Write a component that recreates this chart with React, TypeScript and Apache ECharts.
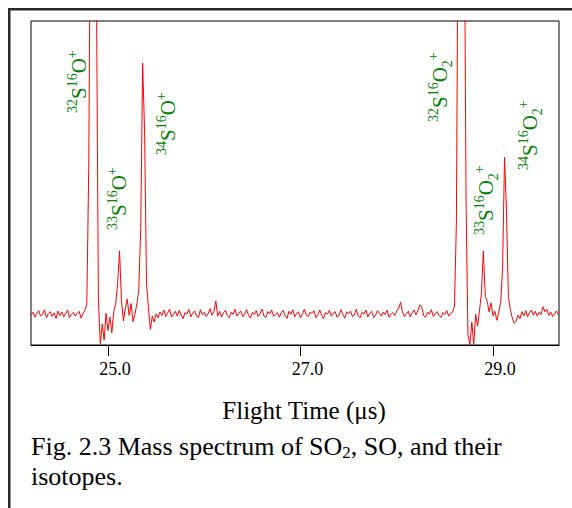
import React, { useEffect, useRef } from "react";
import * as echarts from "echarts";

// Flight time sampling of the trace (μs)
const TIME_START = 24.2;
const TIME_STEP = 0.02;

// Axis
const X_MIN = 24.2;
const X_MAX = 29.686;
const Y_MIN = 0;
const Y_MAX = 100;
const TICK_VALUES = [25, 27, 29];

// Intensity (arbitrary units), segment by segment
// samples 0-28: baseline before SO peaks
const BASELINE_LEFT = [
  9.2, 10.1, 8.6, 9.8, 10.6, 8.9, 9.5, 10.9, 8.4, 9.7,
  10.3, 8.8, 9.9, 8.2, 10.5, 9.1, 10.2, 8.7, 9.6, 10.8,
  8.5, 9.4, 10.1, 8.9, 9.8, 10.4, 8.3, 9.6, 10.7,
];
// samples 29-65: 32SO+, 33SO+, 34SO+
const SO_PEAKS = [
  12.5, 55, 150, 150, 150, 110, 14, 0.4, 6.5, 1.5,
  9.8, 4.5, 8.6, 3.8, 10.4, 12.6, 19, 29, 13.5, 7.4,
  11.2, 14.2, 9.1, 12.8, 7.2, 9.4, 12.7, 17, 36, 87,
  66, 19, 11.5, 4.8, 8.9, 7.1, 9.6,
];
// samples 66-218: baseline between SO and SO2
const BASELINE_MID = [
  8.4, 10.2, 9.1, 10.8, 8.8, 9.9, 11.1, 8.6, 9.5, 10.4,
  8.9, 10.7, 9.3, 8.1, 10.0, 9.6, 11.0, 8.7, 9.8, 10.5,
  9.0, 8.5, 10.9, 9.4, 10.1, 8.8, 9.7, 11.2, 9.2, 10.3,
  13.6, 9.0, 10.4, 8.6, 9.9, 10.7, 9.1, 8.4, 10.2, 9.5,
  11.0, 8.9, 9.8, 10.5, 8.7, 9.6, 10.9, 9.2, 8.3, 10.1,
  9.4, 10.6, 8.8, 9.7, 11.1, 9.0, 8.5, 10.3, 9.6, 10.8,
  8.9, 9.3, 10.0, 8.6, 9.9, 10.7, 9.1, 8.2, 10.4, 9.5,
  10.9, 8.7, 9.8, 10.2, 8.4, 9.6, 11.0, 9.3, 8.8, 10.1,
  9.7, 10.6, 8.5, 9.4, 10.8, 9.2, 8.1, 10.0, 9.5, 10.7,
  8.9, 9.8, 10.3, 8.6, 9.1, 10.9, 9.4, 8.3, 10.2, 9.7,
  10.5, 8.8, 9.3, 11.0, 9.0, 8.4, 10.1, 9.6, 10.8, 8.7,
  9.9, 10.4, 8.5, 9.2, 10.6, 9.8, 8.9, 10.2, 9.4, 10.7,
  8.6, 9.5, 10.0, 9.1, 10.5, 11.4, 13.2, 10.1, 8.8, 9.6,
  10.4, 8.7, 9.9, 10.8, 9.3, 10.6, 12.4, 11.8, 9.0, 8.6,
  10.2, 9.5, 10.9, 8.8, 9.7, 10.3, 9.1, 8.5, 10.0, 9.4,
  10.6, 8.9, 9.8,
];
// samples 219-252: 32SO2+, 33SO2+, 34SO2+
const SO2_PEAKS = [
  10.1, 12, 38, 150, 150, 150, 150, 45, 3, 0,
  7, 0.2, 9.5, 5.8, 10.6, 16, 29, 15, 13.5, 10.2,
  13, 9, 10.4, 7.6, 10.1, 13.2, 24, 58, 42, 15,
  11, 8.4, 6.7, 7.3,
];
// samples 253-274: baseline after SO2 peaks
const BASELINE_RIGHT = [
  9.2, 8.1, 10.3, 9.0, 10.6, 8.7, 9.9, 10.8, 9.2, 10.4,
  8.9, 10.1, 9.4, 11.8, 10.3, 11.0, 9.1, 10.2, 8.8, 9.7,
  10.5, 9.3,
];

// Peak labels (rich text: sup = superscript, sub = subscript, n = normal)
const PEAK_LABELS = [
  "{sup|32}{n|S}{sup|16}{n|O}{sup|+}",
  "{sup|33}{n|S}{sup|16}{n|O}{sup|+}",
  "{sup|34}{n|S}{sup|16}{n|O}{sup|+}",
  "{sup|32}{n|S}{sup|16}{n|O}{sub|2}{sup|+}",
  "{sup|33}{n|S}{sup|16}{n|O}{sub|2}{sup|+}",
  "{sup|34}{n|S}{sup|16}{n|O}{sub|2}{sup|+}",
];

const AXIS_TITLE = "Flight Time (\u03bcs)";
const CAPTION_LINE1 = "{c|Fig. 2.3 Mass spectrum of SO}{cs|2}{c|, SO, and their}";
const CAPTION_LINE2 = "isotopes.";

const SERIF = "Liberation Serif";

export default function App() {
  const ref = useRef<HTMLDivElement>(null);

  useEffect(() => {
    if (!ref.current) return;
    const chart = echarts.init(ref.current, undefined, { renderer: "svg" });

    const intensities = [
      ...BASELINE_LEFT,
      ...SO_PEAKS,
      ...BASELINE_MID,
      ...SO2_PEAKS,
      ...BASELINE_RIGHT,
    ];
    const data = intensities.map((v, i) => [
      +(TIME_START + i * TIME_STEP).toFixed(3),
      v,
    ]);

    const labelPos = [
      [79, 113],
      [119, 230],
      [168, 155],
      [440, 122],
      [486, 235],
      [530, 170],
    ];
    const green = "#008000";
    const peakRich = {
      n: { fontSize: 21, fontFamily: SERIF, fill: green, lineHeight: 28, verticalAlign: "middle" },
      sup: { fontSize: 14, fontFamily: SERIF, fill: green, lineHeight: 14, verticalAlign: "top" },
      sub: { fontSize: 14, fontFamily: SERIF, fill: green, lineHeight: 14, verticalAlign: "bottom" },
    };

    const graphics: any[] = [
      { type: "rect", shape: { x: 8, y: 8, width: 564, height: 2.5 }, style: { fill: "#2a2a2a" }, silent: true },
      { type: "rect", shape: { x: 8, y: 8, width: 2.5, height: 500 }, style: { fill: "#2a2a2a" }, silent: true },
      ...PEAK_LABELS.map((t, i) => ({
        type: "text",
        x: labelPos[i][0],
        y: labelPos[i][1],
        rotation: Math.PI / 2,
        silent: true,
        style: {
          text: t,
          rich: peakRich,
          fontFamily: SERIF,
          align: "left",
          verticalAlign: "middle",
          fill: green,
        },
      })),
      {
        type: "text",
        x: 304,
        y: 410.5,
        silent: true,
        style: {
          text: AXIS_TITLE,
          fontSize: 25,
          fontFamily: SERIF,
          fill: "#000",
          align: "center",
          verticalAlign: "middle",
        },
      },
      {
        type: "text",
        x: 31,
        y: 446,
        silent: true,
        style: {
          text: CAPTION_LINE1,
          align: "left",
          verticalAlign: "middle",
          fill: "#000",
          fontFamily: SERIF,
          rich: {
            c: { fontSize: 26, fontFamily: SERIF, fill: "#000", lineHeight: 30, verticalAlign: "middle" },
            cs: { fontSize: 17, fontFamily: SERIF, fill: "#000", lineHeight: 17, verticalAlign: "bottom" },
          },
        },
      },
      {
        type: "text",
        x: 31,
        y: 476,
        silent: true,
        style: {
          text: CAPTION_LINE2,
          fontSize: 26,
          fontFamily: SERIF,
          fill: "#000",
          align: "left",
          verticalAlign: "middle",
        },
      },
    ];

    chart.setOption({
      animation: false,
      backgroundColor: "#ffffff",
      textStyle: { fontFamily: SERIF },
      grid: {
        left: 31,
        top: 21,
        right: 13,
        bottom: 163,
        show: true,
        borderColor: "#000",
        borderWidth: 1,
        backgroundColor: "transparent",
        containLabel: false,
        outerBoundsMode: "none",
      },
      xAxis: {
        type: "value",
        min: X_MIN,
        max: X_MAX,
        splitLine: { show: false },
        axisLine: { show: true, onZero: false, lineStyle: { color: "#000", width: 1 } },
        axisTick: {
          show: true,
          customValues: TICK_VALUES,
          length: 11,
          inside: false,
          lineStyle: { color: "#000", width: 1 },
        },
        axisLabel: {
          show: true,
          customValues: TICK_VALUES,
          formatter: (v: number) => `{t|${v.toFixed(1)}}`,
          fontFamily: SERIF,
          fontSize: 18,
          color: "#000",
          margin: 15,
          rich: {
            t: {
              fontFamily: SERIF,
              fontSize: 18,
              color: "#000",
              padding: [0, 0, 0, 14],
            },
          },
        },
      },
      yAxis: {
        type: "value",
        min: Y_MIN,
        max: Y_MAX,
        show: false,
        splitLine: { show: false },
      },
      series: [
        {
          type: "line",
          data,
          symbol: "none",
          showSymbol: false,
          clip: true,
          silent: true,
          lineStyle: { color: "#ff0000", width: 1 },
        },
      ],
      graphic: graphics,
    });

    return () => chart.dispose();
  }, []);

  return (
    <div
      ref={ref}
      style={{ position: "fixed", left: 0, top: 0, width: 572, height: 508 }}
    />
  );
}
